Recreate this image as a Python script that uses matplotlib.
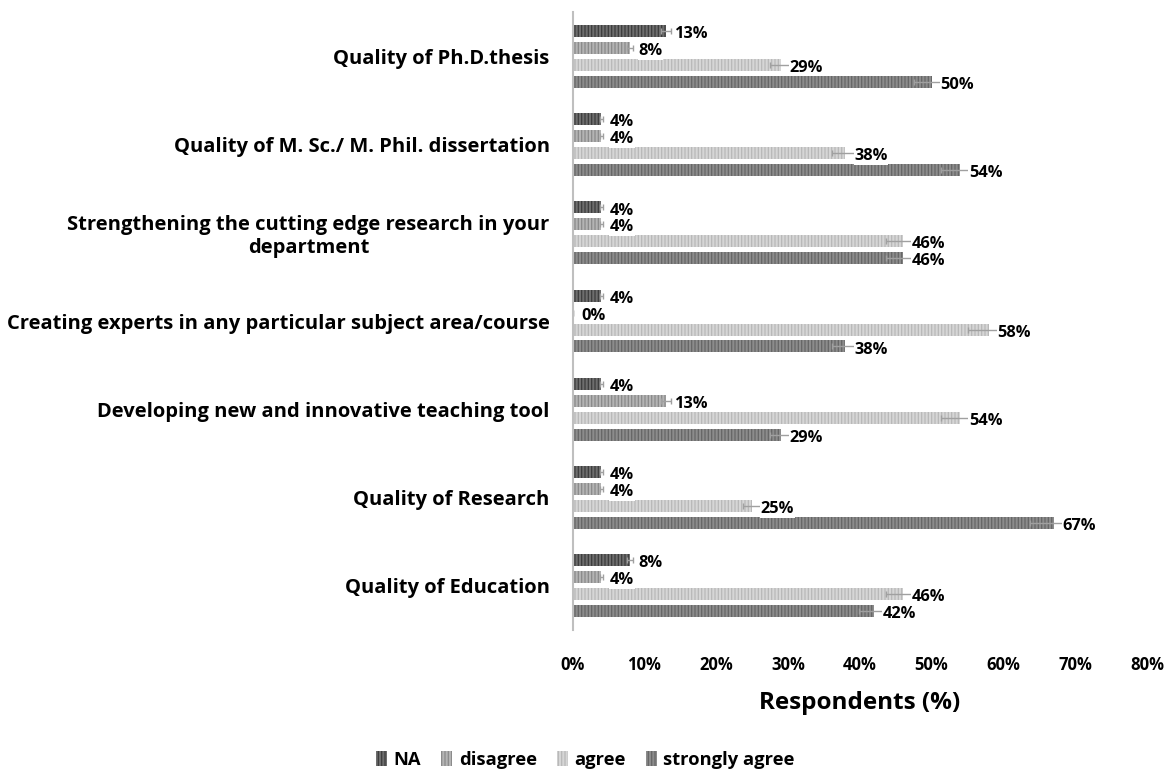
import numpy as np
import matplotlib.pyplot as plt

plt.rcParams['font.family'] = ['Open Sans', 'DejaVu Sans']
plt.rcParams['font.weight'] = 'bold'
plt.rcParams['hatch.linewidth'] = 0.9

categories = [
    "Quality of Education",
    "Quality of Research",
    "Developing new and innovative teaching tool",
    "Creating experts in any particular subject area/course",
    "Strengthening the cutting edge research in your\ndepartment",
    "Quality of M. Sc./ M. Phil. dissertation",
    "Quality of Ph.D.thesis",
]
na = [8, 4, 4, 4, 4, 4, 13]
disagree = [4, 4, 13, 0, 4, 4, 8]
agree = [46, 25, 54, 58, 46, 38, 29]
strongly_agree = [42, 67, 29, 38, 46, 54, 50]
err_pct = 5  # percentage error bars

series = [
    ("NA", na, "#6e6e6e", "#3c3c3c"),
    ("disagree", disagree, "#b4b4b4", "#8a8a8a"),
    ("agree", agree, "#d6d6d6", "#b8b8b8"),
    ("strongly agree", strongly_agree, "#8c8c8c", "#666666"),
]
W = "bold"

fig = plt.figure(figsize=(11.71, 7.70), dpi=100)
ax = fig.add_axes([0.489, 0.182, 0.4905, 0.802])

y = np.arange(len(categories))
offsets = [0.288, 0.096, -0.096, -0.288]
h = 0.136

for (name, vals, fc, hc), off in zip(series, offsets):
    vals = np.array(vals, dtype=float)
    err = vals * err_pct / 100
    ax.barh(y + off, vals, height=h, color=fc, edgecolor=hc, linewidth=0,
            hatch="|||||", label=name)
    ax.errorbar(vals, y + off, xerr=err, fmt="none", ecolor="#a0a0a0",
                elinewidth=1, capsize=2.5, capthick=1)
    for v, yy in zip(vals, y + off):
        ax.text(v + 1.2, yy - 0.035, f"{v:.0f}%", va="center", ha="left",
                fontsize=11.8, fontweight=W, zorder=5,
                bbox=dict(facecolor="white", edgecolor="none", pad=0.3))

ax.set_xlim(0, 80)
ax.set_ylim(-0.5, len(categories) - 0.5)
ax.set_xticks(np.arange(0, 81, 10))
ax.set_xticklabels([f"{t}%" for t in range(0, 81, 10)], fontsize=12,
                   fontweight=W)
ax.set_yticks(y)
ax.set_yticklabels(categories, fontsize=14.5, fontweight=W,
                   multialignment="center")
ax.tick_params(axis="both", length=0)
ax.tick_params(axis="x", pad=19)
ax.tick_params(axis="y", pad=16.5)
for s in ("top", "right", "bottom"):
    ax.spines[s].set_visible(False)
ax.spines["left"].set_color("#bfbfbf")
ax.spines["left"].set_linewidth(1.5)
ax.set_xlabel("Respondents (%)", fontsize=17.5, fontweight=W, labelpad=12)

fig.legend(loc="lower center", bbox_to_anchor=(0.5, -0.02), ncol=4,
           frameon=False, handlelength=0.6, handleheight=0.9,
           columnspacing=1.1, handletextpad=0.35,
           prop=dict(size=13.2, weight=W))

fig.savefig("out.png", dpi=100)
